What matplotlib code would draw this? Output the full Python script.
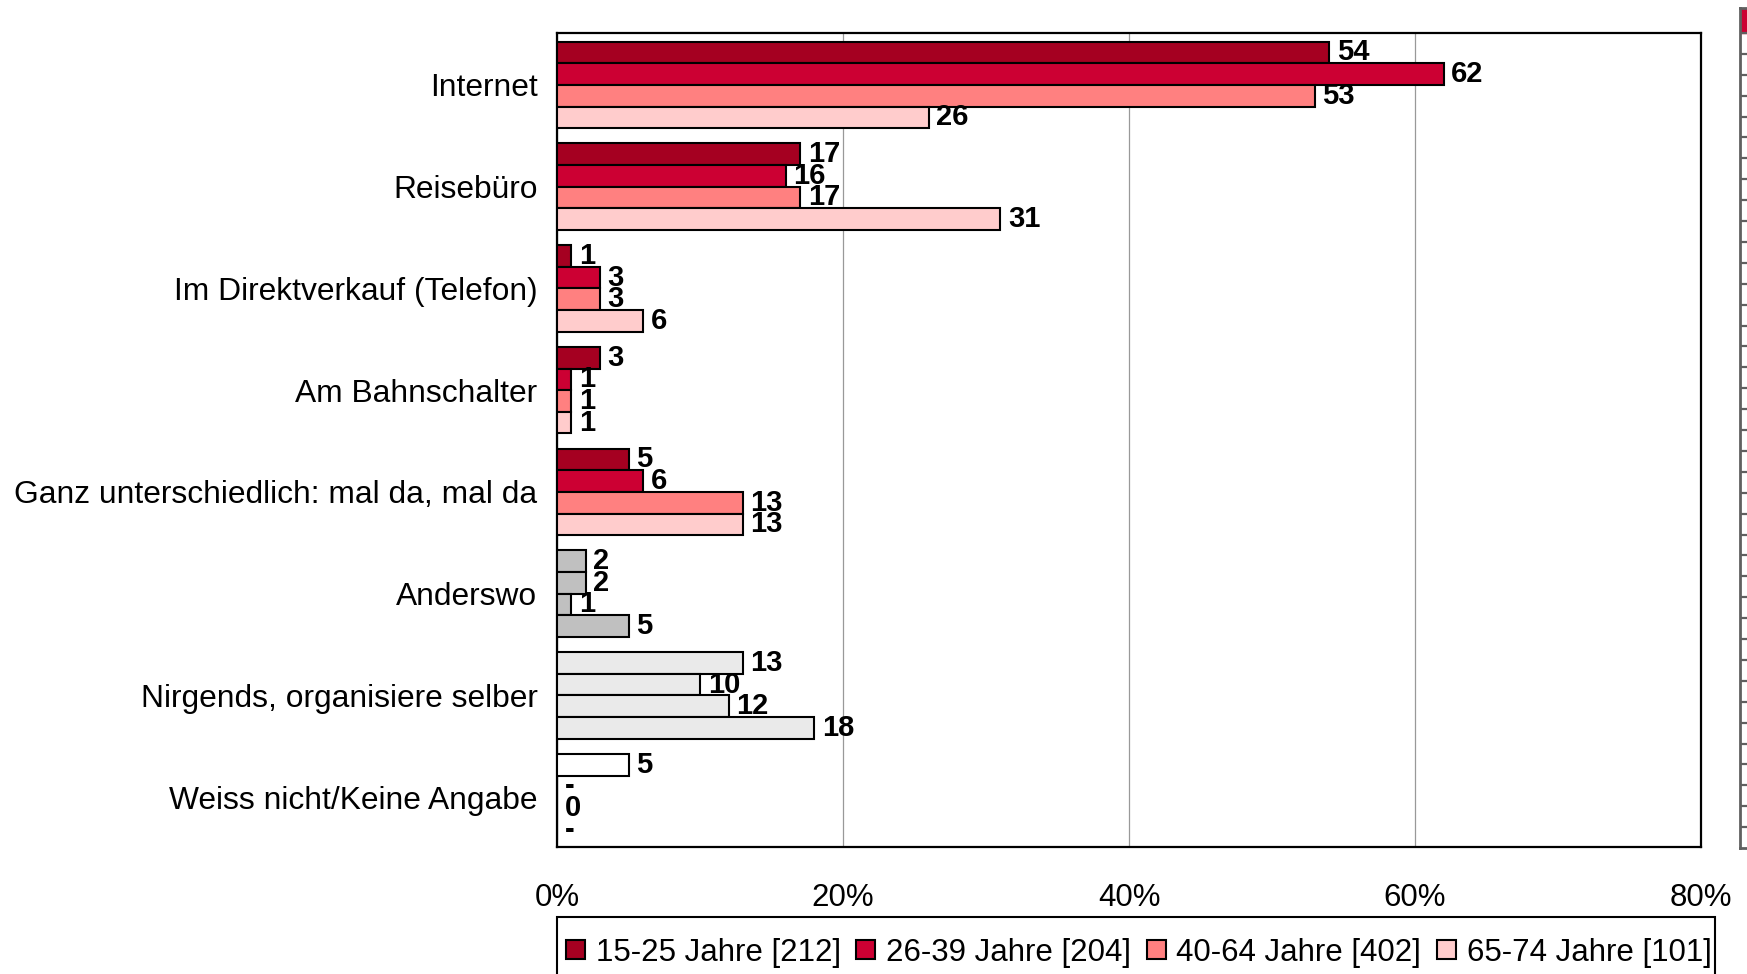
import matplotlib.pyplot as plt
import numpy as np

plt.rcParams['font.family'] = ['Liberation Sans', 'DejaVu Sans']

# -------------------------------------------------------
# Data (percent)
# -------------------------------------------------------
categories = [
    "Internet",
    "Reisebüro",
    "Im Direktverkauf (Telefon)",
    "Am Bahnschalter",
    "Ganz unterschiedlich: mal da, mal da",
    "Anderswo",
    "Nirgends, organisiere selber",
    "Weiss nicht/Keine Angabe",
]
series_names = ["15-25 Jahre [212]", "26-39 Jahre [204]", "40-64 Jahre [402]", "65-74 Jahre [101]"]

# None = "-" (no answers)
age_15_25 = [54, 17, 1, 3, 5, 2, 13, 5]
age_26_39 = [62, 16, 3, 1, 6, 2, 10, None]
age_40_64 = [53, 17, 3, 1, 13, 1, 12, 0]
age_65_74 = [26, 31, 6, 1, 13, 5, 18, None]
series = [age_15_25, age_26_39, age_40_64, age_65_74]

series_colors = ["#A50021", "#CC0033", "#FF8080", "#FFCCCC"]
# the last three rows are drawn in one neutral colour
row_colors = {"Anderswo": "#C0C0C0",
              "Nirgends, organisiere selber": "#EAEAEA",
              "Weiss nicht/Keine Angabe": "#FFFFFF"}

x_ticks = [0, 20, 40, 60, 80]

# -------------------------------------------------------
# Figure
# -------------------------------------------------------
fig = plt.figure(figsize=(17.47, 9.74), dpi=100)
ax = fig.add_axes([557 / 1747, 1 - 847 / 974, (1701 - 557) / 1747, (847 - 33) / 974])

n_series = len(series)
group_h = 0.85
bar_h = group_h / n_series
y_base = np.arange(len(categories))

for j, vals in enumerate(series):
    y = y_base - group_h / 2 + bar_h * (j + 0.5)
    widths = [0 if v is None else v for v in vals]
    colors = [row_colors.get(c, series_colors[j]) for c in categories]
    ax.barh(y, widths, height=bar_h, color=colors, edgecolor="black", linewidth=1.5, zorder=3)
    for yy, v in zip(y, vals):
        label = "-" if v is None else f"{v}"
        ax.annotate(label, (0 if v is None else v, yy), xytext=(5.5, 0), textcoords="offset points",
                    ha="left", va="center", fontsize=21, fontweight="bold", zorder=4)

ax.set_xlim(0, 80)
ax.set_ylim(7.49, -0.51)
ax.set_xticks(x_ticks)
ax.set_xticklabels([f"{t}%" for t in x_ticks], fontsize=22.5)
ax.set_yticks(y_base)
ax.set_yticklabels(categories, fontsize=22.9)
ax.tick_params(axis="x", length=0, pad=26)
ax.tick_params(axis="y", length=0, pad=14)
ax.grid(axis="x", color="#999999", linewidth=0.9, zorder=0)
for s in ax.spines.values():
    s.set_linewidth(1.6)
    s.set_color("black")

# Legend (entries without frame, box drawn separately; it runs off the bottom edge)
handles = [plt.Rectangle((0, 0), 1, 1, facecolor=c, edgecolor="black", linewidth=1.5)
           for c in series_colors]
fig.legend(handles, series_names, loc="center left",
           bbox_to_anchor=(566 / 1747, 1 - 952.5 / 974),
           ncol=4, fontsize=22.5, handlelength=0.6, handleheight=0.6,
           handletextpad=0.35, columnspacing=0.5, borderpad=0, borderaxespad=0,
           frameon=False)
fig.patches.append(plt.Rectangle((557 / 1747, -0.05), (1715 - 557) / 1747, 0.05 + 1 - 917 / 974,
                                 transform=fig.transFigure, fill=False,
                                 edgecolor="black", linewidth=1.5))

# cut-off neighbouring panel at the right edge
ax2 = fig.add_axes([1740 / 1747, 1 - 848 / 974, 30 / 1747, (848 - 8) / 974])
ax2.set_xlim(0, 1)
ax2.set_ylim(848, 8)
ax2.axhspan(8, 33, color="#CC0033")
for yy in np.arange(33, 848, 20.9):
    ax2.axhline(yy, color="#606060", linewidth=1.6)
ax2.set_xticks([])
ax2.set_yticks([])
for s in ax2.spines.values():
    s.set_color("#606060")
    s.set_linewidth(2)

fig.savefig("out.png", dpi=100)
